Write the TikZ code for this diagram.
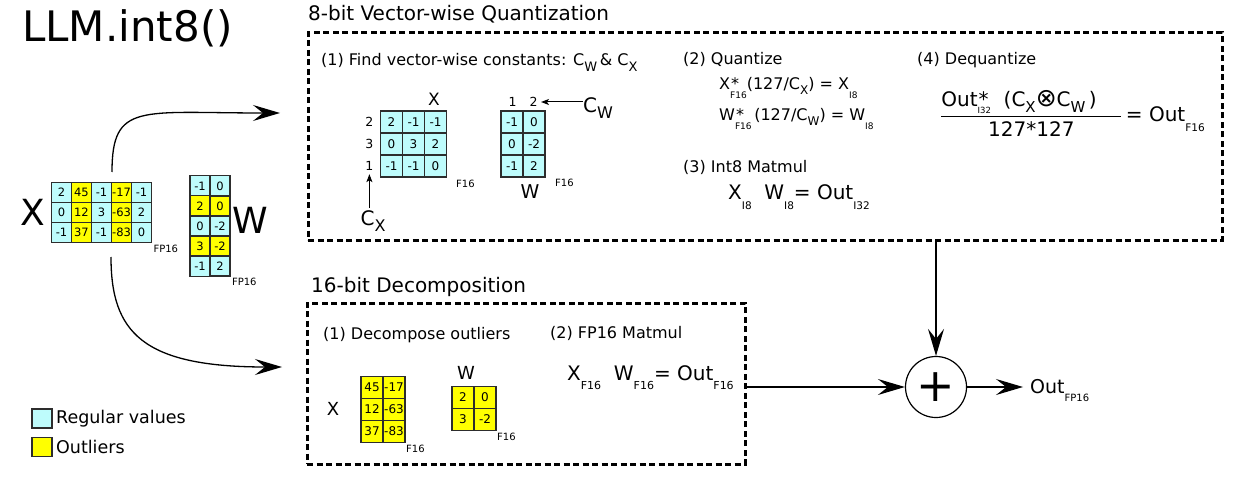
\documentclass[tikz,border=0pt]{standalone}
\usepackage{amsmath}
\usepackage{fontspec}
\setmainfont{DejaVu Sans}
\usetikzlibrary{arrows.meta,matrix}

\definecolor{regfill}{RGB}{190,252,252}
\definecolor{outfill}{RGB}{255,255,0}
\definecolor{celledge}{RGB}{45,45,45}

\newcommand{\fsz}[1]{\fontsize{#1}{#1}\selectfont}
% subscript set fully below the baseline
\newcommand{\lowtxt}[2][9]{\raisebox{-1.2\height}{\fsz{#1}#2}}
% star over a low subscript
\newcommand{\starlow}[2][9]{\rlap{\hspace{1pt}*}\lowtxt[#1]{#2}}
\newcommand{\halfsub}[2][12]{\raisebox{-0.55\height}{\fsz{#1}#2}}

\tikzset{
  cell/.style={draw=celledge, line width=1.2pt, fill=regfill, inner sep=0pt,
    minimum width=20pt, minimum height=20pt, font=\fsz{11.5}},
  qcell/.style={cell, minimum width=22pt, minimum height=22pt, font=\fsz{12}},
  outlier/.style={nodes={fill=outfill}},
  vals/.style={matrix of nodes, column sep=-1.2pt, row sep=-1.2pt, inner sep=0pt},
  stage/.style={draw, line width=3pt, dash pattern=on 6pt off 3.5pt, inner sep=0pt},
  flow/.style={-{Stealth[length=27pt,width=16pt,inset=10pt]}, line width=1.3pt},
  tick/.style={-{Stealth[length=8pt,width=6pt,inset=2pt]}, line width=1pt},
  small/.style={font=\fsz{10}, inner sep=1pt},
  lbl/.style={font=\fsz{16}, anchor=base west, inner sep=0pt},
  head/.style={font=\fsz{20}, anchor=base west, inner sep=0pt},
}

\begin{document}
\begin{tikzpicture}[x=1pt, y=1pt]
  \useasboundingbox (0,0) rectangle (1246,-481);

  \node[font=\fsz{42}, anchor=base west, inner sep=0pt] (title) at (22,-42) {LLM.int8()};

  % inputs
  \node[font=\fsz{36}] (xname) at (33,-212) {X};
  \matrix (xin) [vals, nodes={cell}, column 2/.style={outlier}, column 4/.style={outlier}] at (101.5,-212.5) {
    2 & 45 & -1 & -17 & -1 \\
    0 & 12 & 3 & -63 & 2 \\
    -1 & 37 & -1 & -83 & 0 \\
  };
  \node[small, anchor=north west] (xinfp) at (xin.south east) {FP16};
  \matrix (win) [vals, nodes={cell}, row 2/.style={outlier}, row 4/.style={outlier}] at (210,-226) {
    -1 & 0 \\
    2 & 0 \\
    0 & -2 \\
    3 & -2 \\
    -1 & 2 \\
  };
  \node[small, anchor=north west] (winfp) at (win.south east) {FP16};
  \node[font=\fsz{36}] (wname) at (250,-220) {W};

  % 8-bit part
  \node[head] (qhead) at (308,-21) {8-bit Vector-wise Quantization};
  \node[stage, minimum width=914pt, minimum height=207pt] (quant) at (765,-136.5) {};
  \node[lbl] (findhead) at (321,-66) {(1) Find vector-wise constants: C\halfsub[13]{W}\,\& C\halfsub[13]{X}};

  \node[font=\fsz{17}] (xqname) at (434,-99) {X};
  \matrix (xq) [vals, nodes={qcell}] at (413.5,-144) {
    2 & -1 & -1 \\
    0 & 3 & 2 \\
    -1 & -1 & 0 \\
  };
  \node[font=\fsz{12.5}, anchor=east] (xr1) at ([xshift=-3pt]xq-1-1.west) {2};
  \node[font=\fsz{12.5}, anchor=east] (xr2) at ([xshift=-3pt]xq-2-1.west) {3};
  \node[font=\fsz{12.5}, anchor=east] (xr3) at ([xshift=-3pt]xq-3-1.west) {1};
  \node[small, anchor=west] (xqfp) at (455,-184) {F16};
  \node[font=\fsz{20}, inner sep=2pt] (cx) at (373,-221) {C\halfsub[16]{X}};
  \draw[tick] (cx.north -| xr3) -- (xr3.south);

  \matrix (wq) [vals, nodes={qcell}] at (523,-144) {
    -1 & 0 \\
    0 & -2 \\
    -1 & 2 \\
  };
  \node[font=\fsz{12.5}] (wc1) at (512.5,-102) {1};
  \node[font=\fsz{12.5}] (wc2) at (533.5,-102) {2};
  \node[font=\fsz{20}, anchor=west, inner sep=0pt] (cw) at (583,-108) {C\halfsub[16]{W}};
  \draw[tick] (cw.west |- wc2.east) -- (wc2.east);
  \node[font=\fsz{19}] (wqname) at (530,-192) {W};
  \node[small, anchor=west] (wqfp) at (554,-183) {F16};

  \node[lbl] (quanthead) at (683,-65) {(2) Quantize};
  \node[lbl] (qx) at (719,-90) {X\starlow{F16}(127/C\halfsub[12]{X}) = X\lowtxt{I8}};
  \node[lbl] (qw) at (719,-121) {W\starlow{F16}\,(127/C\halfsub[12]{W}) = W\lowtxt{I8}};
  \node[lbl] (mmhead) at (683,-172) {(3) Int8 Matmul};
  \node[head] (mmint) at (728,-200) {X\lowtxt[10.5]{I8}\ \ W\lowtxt[10.5]{I8}= Out\lowtxt[10.5]{I32}};

  \node[lbl] (dqhead) at (917,-65) {(4) Dequantize};
  \node[head] (dqfrac) at (940,-122)
    {$\dfrac{\text{\makebox[180pt][l]{Out\starlow[8.5]{I32}\ \ (C\halfsub[15]{X}{\fsz{25}⊗}C\halfsub[15]{W}\,)}}}{\text{127*127}}$\,= Out\lowtxt[10.5]{F16}};

  % 16-bit part
  \node[head] (dhead) at (311,-292) {16-bit Decomposition};
  \node[stage, minimum width=438pt, minimum height=161pt] (decomp) at (526,-383.5) {};
  \node[lbl] (dchead) at (323,-339) {(1) Decompose outliers};
  \node[lbl] (fphead) at (550,-338) {(2) FP16 Matmul};
  \node[font=\fsz{18}] (xoname) at (333,-409) {X};
  \matrix (xo) [vals, nodes={qcell, fill=outfill}] at (383,-409.5) {
    45 & -17 \\
    12 & -63 \\
    37 & -83 \\
  };
  \node[small, anchor=west] (xofp) at (405,-449) {F16};
  \node[font=\fsz{18}] (woname) at (466,-373) {W};
  \matrix (wo) [vals, nodes={qcell, fill=outfill}] at (474,-408.5) {
    2 & 0 \\
    3 & -2 \\
  };
  \node[small, anchor=west] (wofp) at (496,-437) {F16};
  \node[head] (mmfp) at (567,-380) {X\lowtxt[11]{F16}\ \ W\lowtxt[11]{F16}= Out\lowtxt[11]{F16}};

  % sum
  \node[draw, circle, line width=1.2pt, minimum size=61pt, inner sep=0pt, font=\fsz{46}] (plus) at (936,-387) {+};
  \node[font=\fsz{19}, anchor=base west, inner sep=0pt] (outres) at (1030,-393) {Out\lowtxt[10]{FP16}};

  \coordinate (xup) at (112,-172);
  \coordinate (xdown) at (111,-257);
  \coordinate (tipq) at (280,-113);
  \coordinate (tipd) at (282,-367);
  \draw[flow] (xup) .. controls +(0,70) and +(-140,0) .. (tipq);
  \draw[flow] (xdown) .. controls +(0,-75) and +(-140,0) .. (tipd);
  \draw[flow] (quant.south -| plus.north) -- (plus.north);
  \draw[flow] (decomp.east |- plus.west) -- (plus.west);
  \draw[flow] (plus.east) -- ([xshift=-7pt]plus.east -| outres.west);

  % legend
  \node[cell, minimum height=19pt] (legreg) at (42,-418.5) {};
  \node[font=\fsz{17.5}, anchor=west] (legregtxt) at (legreg.east) {Regular values};
  \node[cell, fill=outfill, minimum height=19pt] (legout) at (42,-447) {};
  \node[font=\fsz{17.5}, anchor=west] (legouttxt) at (legout.east) {Outliers};
\end{tikzpicture}
\end{document}
